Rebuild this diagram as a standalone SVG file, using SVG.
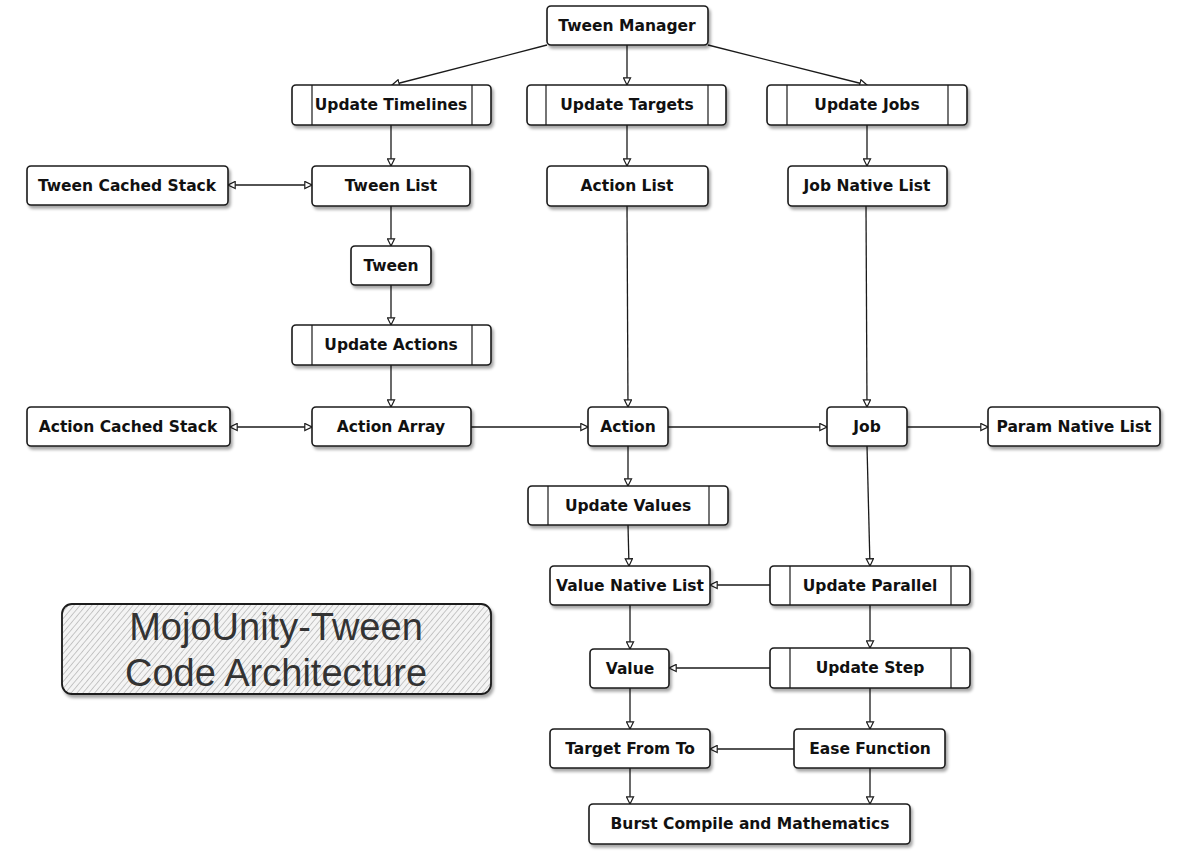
<svg xmlns="http://www.w3.org/2000/svg" width="1200" height="853" viewBox="0 0 1200 853">
<defs>
<style>
.box{fill:#fff;stroke:#1a1a1a;stroke-width:1.6;filter:url(#sh)}
.sub{stroke:#1a1a1a;stroke-width:1.2;fill:none}
.lbl{font-family:"DejaVu Sans",sans-serif;font-weight:bold;font-size:15.5px;fill:#111;text-anchor:middle;dominant-baseline:central}
.edge{stroke:#1a1a1a;stroke-width:1.3;fill:none;marker-end:url(#ah)}
.both{marker-start:url(#ah)}
.title{font-family:"Liberation Sans",sans-serif;font-size:38px;fill:#333;text-anchor:middle}
</style>
<filter id="sh" x="-10%" y="-20%" width="120%" height="150%">
<feDropShadow dx="2" dy="3" stdDeviation="1.5" flood-color="#000" flood-opacity="0.35"/>
</filter>
<marker id="ah" viewBox="0 0 10 10" refX="9" refY="5" markerWidth="9" markerHeight="9" markerUnits="userSpaceOnUse" orient="auto-start-reverse">
<path d="M1,1 L9,5 L1,9 Z" fill="#fff" stroke="#1a1a1a" stroke-width="1.3"/>
</marker>
<pattern id="hatch" width="4.5" height="4.5" patternUnits="userSpaceOnUse" patternTransform="rotate(40)">
<rect width="4.5" height="4.5" fill="#f4f4f4"/>
<line x1="0" y1="0" x2="0" y2="4.5" stroke="#999" stroke-width="1"/>
</pattern>
</defs>
<rect width="1200" height="853" fill="#fff"/>

<g id="connectors">
<path class="edge" d="M547,45 L392,85"/>
<path class="edge" d="M627,45 L627,85"/>
<path class="edge" d="M708,45 L867,85"/>
<path class="edge" d="M391,125 L391,166"/>
<path class="edge" d="M627,125 L627,166"/>
<path class="edge" d="M867,125 L867,166"/>
<path class="edge both" d="M228,185 L312,185"/>
<path class="edge" d="M391,206 L391,246"/>
<path class="edge" d="M391,285 L391,325"/>
<path class="edge" d="M391,365 L391,407"/>
<path class="edge both" d="M230,427 L312,427"/>
<path class="edge" d="M471,427 L588,427"/>
<path class="edge" d="M627,206 L628,407"/>
<path class="edge" d="M668,427 L827,427"/>
<path class="edge" d="M866,206 L867,407"/>
<path class="edge" d="M907,427 L988,427"/>
<path class="edge" d="M628,446 L628,486"/>
<path class="edge" d="M628,525 L629,566"/>
<path class="edge" d="M867,446 L870,566"/>
<path class="edge" d="M770,585 L710,585"/>
<path class="edge" d="M630,605 L630,649"/>
<path class="edge" d="M870,605 L870,648"/>
<path class="edge" d="M770,668 L669,668"/>
<path class="edge" d="M630,688 L630,729"/>
<path class="edge" d="M870,688 L870,729"/>
<path class="edge" d="M794,749 L710,749"/>
<path class="edge" d="M630,768 L630,804"/>
<path class="edge" d="M870,768 L870,804"/>
</g>

<g id="tween-manager"><rect class="box" x="547" y="6" width="161" height="39" rx="4"/><text class="lbl" x="627" y="26">Tween Manager</text></g>

<g id="update-timelines"><rect class="box" x="292" y="85" width="199" height="40" rx="4"/><path class="sub" d="M312,85 V125 M472,85 V125"/><text class="lbl" x="391" y="105">Update Timelines</text></g>
<g id="update-targets"><rect class="box" x="527" y="85" width="199" height="40" rx="4"/><path class="sub" d="M546,85 V125 M708,85 V125"/><text class="lbl" x="627" y="105">Update Targets</text></g>
<g id="update-jobs"><rect class="box" x="767" y="85" width="200" height="40" rx="4"/><path class="sub" d="M787,85 V125 M948,85 V125"/><text class="lbl" x="867" y="105">Update Jobs</text></g>

<g id="tween-cached-stack"><rect class="box" x="27" y="166" width="201" height="39" rx="4"/><text class="lbl" x="127" y="186">Tween Cached Stack</text></g>
<g id="tween-list"><rect class="box" x="312" y="166" width="158" height="40" rx="4"/><text class="lbl" x="391" y="186">Tween List</text></g>
<g id="action-list"><rect class="box" x="547" y="166" width="161" height="40" rx="4"/><text class="lbl" x="627" y="186">Action List</text></g>
<g id="job-native-list"><rect class="box" x="788" y="166" width="159" height="40" rx="4"/><text class="lbl" x="867" y="186">Job Native List</text></g>

<g id="tween"><rect class="box" x="351" y="246" width="80" height="39" rx="4"/><text class="lbl" x="391" y="266">Tween</text></g>
<g id="update-actions"><rect class="box" x="292" y="325" width="199" height="40" rx="4"/><path class="sub" d="M312,325 V365 M472,325 V365"/><text class="lbl" x="391" y="345">Update Actions</text></g>

<g id="action-cached-stack"><rect class="box" x="27" y="407" width="203" height="39" rx="4"/><text class="lbl" x="128" y="427">Action Cached Stack</text></g>
<g id="action-array"><rect class="box" x="312" y="407" width="159" height="39" rx="4"/><text class="lbl" x="391" y="427">Action Array</text></g>
<g id="action"><rect class="box" x="588" y="407" width="80" height="39" rx="4"/><text class="lbl" x="628" y="427">Action</text></g>
<g id="job"><rect class="box" x="827" y="407" width="80" height="39" rx="4"/><text class="lbl" x="867" y="427">Job</text></g>
<g id="param-native-list"><rect class="box" x="988" y="407" width="172" height="39" rx="4"/><text class="lbl" x="1074" y="427">Param Native List</text></g>

<g id="update-values"><rect class="box" x="528" y="486" width="200" height="39" rx="4"/><path class="sub" d="M548,486 V525 M709,486 V525"/><text class="lbl" x="628" y="506">Update Values</text></g>
<g id="value-native-list"><rect class="box" x="550" y="566" width="160" height="39" rx="4"/><text class="lbl" x="630" y="586">Value Native List</text></g>
<g id="update-parallel"><rect class="box" x="770" y="566" width="200" height="39" rx="4"/><path class="sub" d="M790,566 V605 M951,566 V605"/><text class="lbl" x="870" y="586">Update Parallel</text></g>

<g id="value"><rect class="box" x="590" y="649" width="79" height="39" rx="4"/><text class="lbl" x="630" y="669">Value</text></g>
<g id="update-step"><rect class="box" x="770" y="648" width="200" height="40" rx="4"/><path class="sub" d="M790,648 V688 M951,648 V688"/><text class="lbl" x="870" y="668">Update Step</text></g>

<g id="target-from-to"><rect class="box" x="550" y="729" width="160" height="39" rx="4"/><text class="lbl" x="630" y="749">Target From To</text></g>
<g id="ease-function"><rect class="box" x="794" y="729" width="151" height="39" rx="4"/><text class="lbl" x="870" y="749">Ease Function</text></g>

<g id="burst-compile"><rect class="box" x="589" y="804" width="321" height="40" rx="4"/><text class="lbl" x="750" y="824">Burst Compile and Mathematics</text></g>

<g id="title">
<rect x="62" y="604" width="429" height="90" rx="10" fill="url(#hatch)" stroke="#1a1a1a" stroke-width="1.8" filter="url(#sh)"/>
<text class="title" x="276" y="640">MojoUnity-Tween</text>
<text class="title" x="276" y="686">Code Architecture</text>
</g>
</svg>
